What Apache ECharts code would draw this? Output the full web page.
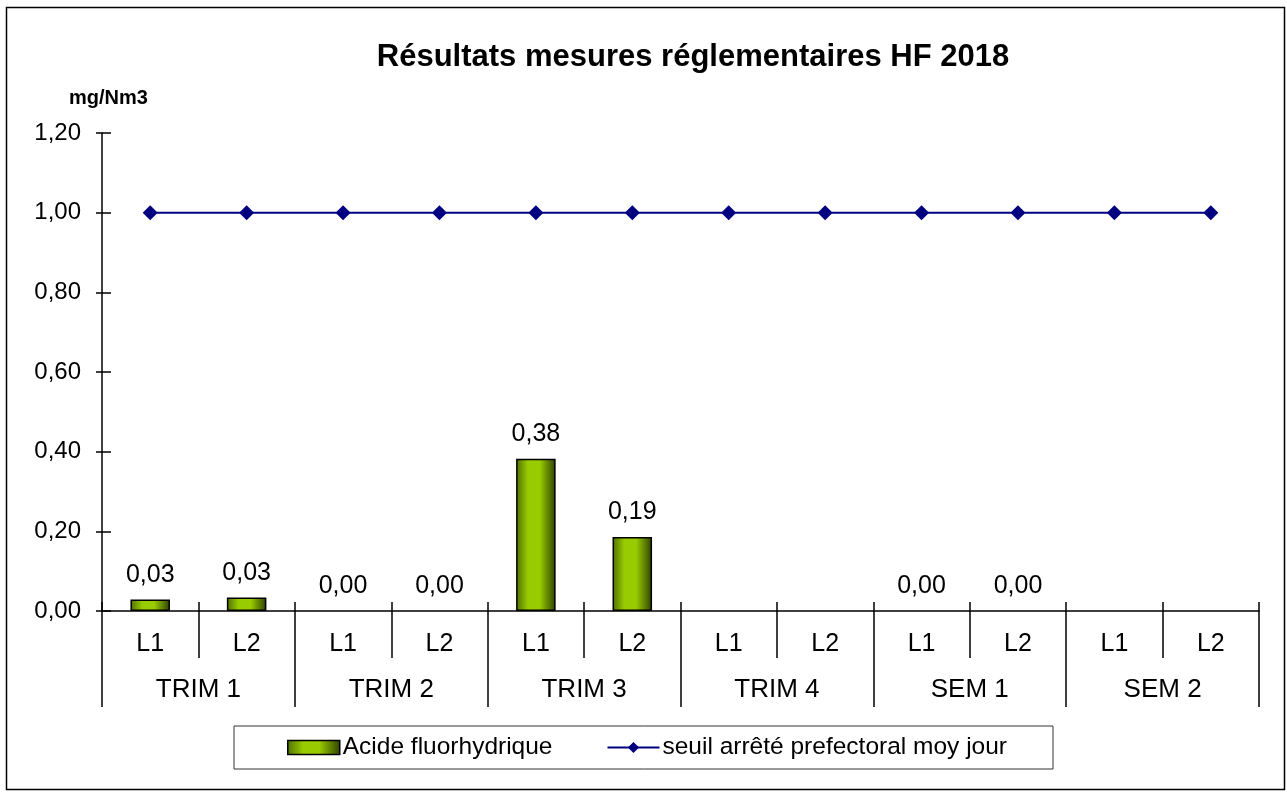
<!DOCTYPE html>
<html>
<head>
<meta charset="utf-8">
<script src="https://cdn.jsdelivr.net/npm/echarts@6/dist/echarts.min.js"></script>
<style>
html,body{margin:0;padding:0;background:#fff;}
#chart{width:1287px;height:793px;}
</style>
</head>
<body>
<div id="chart"></div>
<script>
// ---- data ----
const lines = ['L1','L2','L1','L2','L1','L2','L1','L2','L1','L2','L1','L2'];
const groups = ['TRIM 1','TRIM 2','TRIM 3','TRIM 4','SEM 1','SEM 2'];
const acideHF = [0.029, 0.034, 0, 0, 0.382, 0.186, null, null, 0, 0, null, null];
const seuil = [1, 1, 1, 1, 1, 1, 1, 1, 1, 1, 1, 1];
const yTicks = { min: 0, max: 1.2, interval: 0.2 };

const FONT = '"Liberation Sans", Arial, sans-serif';
const fmt = v => Number(v).toFixed(2).replace('.', ',');

const gridBox = { left: 102, right: 28, top: 133, bottom: 182 };
const chart = echarts.init(document.getElementById('chart'));

const barFill = new echarts.graphic.LinearGradient(0, 0, 1, 0, [
  { offset: 0, color: '#4f6e00' },
  { offset: 0.3, color: '#99cc00' },
  { offset: 0.6, color: '#99cc00' },
  { offset: 1, color: '#2e4000' }
]);

// zero-valued bars: no visible outline (only the label is shown)
const barData = acideHF.map(v => (v === 0 ? { value: v, itemStyle: { borderWidth: 0 } } : v));

chart.setOption({
  animation: false,
  backgroundColor: '#ffffff',
  textStyle: { fontFamily: FONT, color: '#000' },
  title: [
    { text: 'Résultats mesures réglementaires HF 2018', left: 688, top: 37, textAlign: 'center',
      textStyle: { fontFamily: FONT, fontSize: 31, fontWeight: 'bold', color: '#000' } },
    { text: 'mg/Nm3', left: 64, top: 83,
      textStyle: { fontFamily: FONT, fontSize: 20, fontWeight: 'bold', color: '#000' } }
  ],
  graphic: [
    { type: 'rect', left: 4, top: 5, shape: { width: 1278, height: 782 }, silent: true,
      style: { fill: 'none', stroke: '#000', lineWidth: 1.5 } }
  ],
  legend: {
    left: 234, top: 726,
    padding: [9, 46, 9, 53],
    itemGap: 54,
    itemWidth: 52, itemHeight: 14,
    borderColor: '#333', borderWidth: 1,
    textStyle: { fontFamily: FONT, fontSize: 24.5, color: '#000', padding: [0, 0, 0, -2] },
    data: [
      { name: 'Acide fluorhydrique', icon: 'rect', itemStyle: { borderColor: '#000', borderWidth: 1.5 } },
      { name: 'seuil arrêté prefectoral moy jour' }
    ]
  },
  grid: [
    Object.assign({}, gridBox),
    Object.assign({}, gridBox),
    Object.assign({}, gridBox)
  ],
  xAxis: [
    { type: 'category', gridIndex: 0, data: lines, position: 'bottom',
      axisLine: { lineStyle: { color: '#000', width: 1.5 } },
      axisTick: { show: true, length: 47, interval: 0, lineStyle: { color: '#000', width: 1.5 } },
      axisLabel: { interval: 0, margin: 21, fontSize: 25, color: '#000', fontFamily: FONT } },
    { type: 'category', gridIndex: 1, data: groups, position: 'bottom',
      axisLine: { show: false },
      axisTick: { show: true, length: 96, interval: 0, lineStyle: { color: '#000', width: 1.5 } },
      axisLabel: { interval: 0, margin: 66, fontSize: 26, color: '#000', fontFamily: FONT } },
    { type: 'category', gridIndex: 2, data: lines, position: 'bottom',
      axisLine: { show: false },
      axisTick: { show: true, inside: true, length: 9, interval: 0, lineStyle: { color: '#000', width: 1.5 } },
      axisLabel: { show: false } }
  ],
  yAxis: [
    { type: 'value', gridIndex: 0, min: yTicks.min, max: yTicks.max, interval: yTicks.interval,
      axisLine: { show: true, lineStyle: { color: '#000', width: 1.5 } },
      axisTick: { show: true, length: 6, lineStyle: { color: '#000', width: 1.5 } },
      splitLine: { show: false },
      axisLabel: { margin: 21, fontSize: 24, color: '#000', fontFamily: FONT, formatter: v => fmt(v) } },
    { type: 'value', gridIndex: 1, min: yTicks.min, max: yTicks.max, interval: yTicks.interval,
      show: false },
    { type: 'value', gridIndex: 2, min: yTicks.min, max: yTicks.max, interval: yTicks.interval,
      axisLine: { show: false },
      axisTick: { show: true, inside: true, length: 9, lineStyle: { color: '#000', width: 1.5 } },
      splitLine: { show: false },
      axisLabel: { show: false } }
  ],
  series: [
    { name: 'Acide fluorhydrique', type: 'bar', xAxisIndex: 0, yAxisIndex: 0,
      data: barData, barWidth: '41%',
      itemStyle: { color: barFill, borderColor: '#000', borderWidth: 1.5 },
      label: { show: true, position: 'top', distance: 12, fontSize: 25, color: '#000', fontFamily: FONT,
        formatter: p => (p.value == null ? '' : fmt(p.value)) } },
    { name: 'seuil arrêté prefectoral moy jour', type: 'line', xAxisIndex: 0, yAxisIndex: 0,
      data: seuil, color: '#000080',
      lineStyle: { color: '#000080', width: 2 },
      symbol: 'diamond', symbolSize: 15, showAllSymbol: true,
      itemStyle: { color: '#000080' } }
  ]
});
</script>
</body>
</html>
